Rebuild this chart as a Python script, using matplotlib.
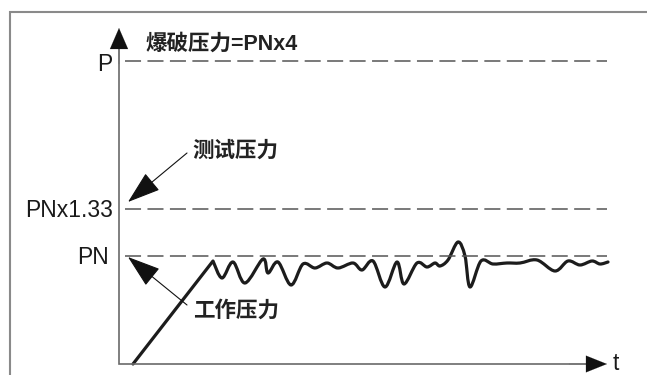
import matplotlib
matplotlib.use("Agg")
import matplotlib.pyplot as plt
from matplotlib.path import Path
from matplotlib.patches import PathPatch
import numpy as np

# ---------------- data ----------------
# pressure levels (drawn as dashed reference lines)
level_labels = ["P", "PNx1.33", "PN"]
level_values = [303, 155, 108]

# working pressure trace: time / pressure (arbitrary units)
wave_t = [14, 94, 103, 114, 126, 144, 149, 159, 172, 184, 196, 208, 219, 234,
          243, 254, 266, 278, 285, 298, 308, 316, 321, 329, 339, 346, 351, 362,
          374, 388, 401, 418, 436, 449, 461, 473, 481, 489]
wave_p = [0, 103, 86, 102, 81, 105, 91, 102, 79, 100, 96, 101, 96, 101,
          94, 103, 77, 102, 80, 101, 97, 101, 98, 104, 122, 108, 77, 103,
          100, 101, 101, 104, 93, 103, 99, 103, 100, 102]

burst_label = "爆破压力=PNx4"
test_label = "测试压力"
work_label = "工作压力"
t_label = "t"

# ---------------- figure ----------------
fig = plt.figure(figsize=(6.47, 3.75), dpi=100)
ax = fig.add_axes([0, 0, 1, 1])
ax.set_xlim(-119, 528)
ax.set_ylim(-11, 364)
ax.axis("off")

cjk = ["Noto Sans CJK SC", "DejaVu Sans"]
mixed = ["Liberation Sans", "Noto Sans CJK SC", "DejaVu Sans"]
lat = ["Liberation Sans", "DejaVu Sans"]

# outer frame (left + top)
ax.plot([-109, -109, 530], [-20, 352, 352], color="#8a8a8a", lw=1.5,
        solid_joinstyle="miter", clip_on=False)

# axes with arrows
axis_col = "#6a6a6a"
ax.plot([0, 0, 470], [318, 0, 0], color=axis_col, lw=1.2, solid_joinstyle="miter")
ax.annotate("", xy=(0, 336), xytext=(0, 300),
            arrowprops=dict(arrowstyle="-|>,head_length=1.5,head_width=0.65",
                            color="#111111", lw=0.1, mutation_scale=10,
                            shrinkA=0, shrinkB=0))
ax.annotate("", xy=(488, 0), xytext=(450, 0),
            arrowprops=dict(arrowstyle="-|>,head_length=1.5,head_width=0.6",
                            color="#111111", lw=0.1, mutation_scale=10,
                            shrinkA=0, shrinkB=0))

# dashed level lines
for v in level_values:
    ax.plot([6, 488], [v, v], color="#555555", lw=1.1,
            linestyle=(0, (10.5, 4.2)))

# level labels
label_pos = {"P": (-7, 293), "PNx1.33": (-6, 147), "PN": (-10, 100)}
for lab in level_labels:
    x, y = label_pos[lab]
    ax.text(x, y, lab, ha="right", va="baseline", fontsize=16.5,
            family=lat, color="#1a1a1a")

# wave: straight ramp then smooth (Catmull-Rom -> Bezier) oscillation
pts = np.column_stack([wave_t, wave_p]).astype(float)
verts = [tuple(pts[0]), tuple(pts[1])]
codes = [Path.MOVETO, Path.LINETO]
n = len(pts)
for i in range(1, n - 1):
    p0 = pts[i - 1] if i > 1 else pts[i]
    p1 = pts[i]
    p2 = pts[i + 1]
    p3 = pts[i + 2] if i + 2 < n else pts[i + 1]
    c1 = p1 + (p2 - p0) / 6.0
    c2 = p2 - (p3 - p1) / 6.0
    verts += [tuple(c1), tuple(c2), tuple(p2)]
    codes += [Path.CURVE4] * 3
ax.add_patch(PathPatch(Path(verts, codes), facecolor="none",
                       edgecolor="#1c1c1c", lw=2.3, capstyle="round",
                       joinstyle="round"))

# annotations
ax.text(26, 320, burst_label, ha="left", va="center", fontsize=15.5,
        family=mixed, fontweight="bold", color="#222222")
ax.text(73, 214, test_label, ha="left", va="center", fontsize=15.5,
        family=cjk, fontweight="bold", color="#222222")
ax.text(74, 54, work_label, ha="left", va="center", fontsize=15.5,
        family=cjk, fontweight="bold", color="#222222")
ax.text(494, -6, t_label, ha="left", va="baseline", fontsize=16.5,
        family=lat, color="#1a1a1a")

arrow_kw = dict(arrowstyle="-|>,head_length=2.1,head_width=0.7",
                mutation_scale=10, color="#111111", lw=0.8,
                shrinkA=0, shrinkB=0)
ax.annotate("", xy=(9, 162), xytext=(68, 211), arrowprops=arrow_kw)
ax.annotate("", xy=(9, 107), xytext=(68, 59), arrowprops=arrow_kw)

fig.savefig("out.png", dpi=100)
